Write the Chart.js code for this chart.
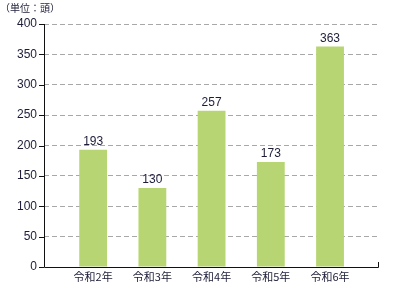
<!DOCTYPE html>
<html>
<head>
<meta charset="utf-8">
<script src="https://cdn.jsdelivr.net/npm/chart.js@4"></script>
<style>
  html, body { margin: 0; padding: 0; background: #fff; }
  #wrap { width: 396px; height: 289px; position: relative; }
</style>
</head>
<body>
<div id="wrap"><canvas id="myChart"></canvas></div>
<script>
// datos del grafico
var etiquetas = ['令和2年', '令和3年', '令和4年', '令和5年', '令和6年'];
var valores = [193, 130, 257, 173, 363];
var marcasY = [0, 50, 100, 150, 200, 250, 300, 350, 400];
var unidad = '（単位：頭）';

var colorBarra = 'rgb(183,214,115)';
var colorTexto = '#1c1c38';

// plugin para los numeros encima de las barras, el titulo y el remate del eje x
var extras = {
    id: 'extras',
    afterDatasetsDraw: function(chart) {
        var ctx = chart.ctx;
        var area = chart.chartArea;
        ctx.save();
        ctx.font = '12px "Liberation Sans", Arial, sans-serif';
        ctx.fillStyle = colorTexto;
        ctx.textAlign = 'center';
        ctx.textBaseline = 'bottom';
        chart.getDatasetMeta(0).data.forEach(function(bar, i) {
            ctx.fillText(valores[i], bar.x, bar.y - 2);
        });
        // titulo unidad
        ctx.font = '10px "Noto Sans CJK JP", sans-serif';
        ctx.textAlign = 'left';
        ctx.textBaseline = 'middle';
        ctx.fillText(unidad, 0, 8);
        // ejes
        ctx.strokeStyle = '#111';
        ctx.lineWidth = 1;
        ctx.beginPath();
        ctx.moveTo(area.left + 0.5, area.top);
        ctx.lineTo(area.left + 0.5, area.bottom + 0.5);
        ctx.lineTo(area.right + 0.5, area.bottom + 0.5);
        ctx.lineTo(area.right + 0.5, area.bottom - 5);
        ctx.stroke();
        // marcas del eje y
        var y = chart.scales.y;
        marcasY.forEach(function(v) {
            var py = Math.round(y.getPixelForValue(v)) + 0.5;
            ctx.beginPath();
            ctx.moveTo(area.left - 5, py);
            ctx.lineTo(area.left, py);
            ctx.stroke();
        });
        ctx.restore();
    }
};

var ctx = document.getElementById('myChart').getContext('2d');
var chart = new Chart(ctx, {
    type: 'bar',
    data: {
        datasets: [{
            data: valores.map(function(v, i) { return { x: i, y: v }; }),
            backgroundColor: colorBarra,
            borderWidth: 0,
            barPercentage: 0.47,
            categoryPercentage: 1
        }]
    },
    options: {
        responsive: true,
        maintainAspectRatio: false,
        animation: false,
        layout: { padding: { top: 24, right: 18, left: 0, bottom: 0 } },
        plugins: {
            legend: { display: false },
            tooltip: { enabled: false }
        },
        scales: {
            x: {
                type: 'linear',
                offset: false,
                min: -0.83,
                max: 4.81,
                afterBuildTicks: function(scale) {
                    scale.ticks = etiquetas.map(function(e, i) { return { value: i }; });
                },
                afterFit: function(scale) { scale.height = 22; },
                grid: { display: false, drawTicks: false },
                border: { display: false },
                ticks: {
                    autoSkip: false,
                    maxRotation: 0,
                    padding: 3,
                    color: colorTexto,
                    font: { family: '"Noto Sans CJK JP", sans-serif', size: 11 },
                    callback: function(v) { return etiquetas[v]; }
                }
            },
            y: {
                min: 0,
                max: 400,
                afterBuildTicks: function(scale) {
                    scale.ticks = marcasY.map(function(v) { return { value: v }; });
                },
                afterFit: function(scale) { scale.width = 44; },
                grid: {
                    color: function(c) { return c.tick.value === 0 ? 'rgba(0,0,0,0)' : '#a8a8a8'; },
                    drawTicks: false,
                    lineWidth: 1
                },
                border: { display: false, dash: [5, 3] },
                ticks: {
                    padding: 7,
                    color: colorTexto,
                    font: { family: '"Liberation Sans", Arial, sans-serif', size: 12 }
                }
            }
        }
    },
    plugins: [extras]
});
</script>
</body>
</html>
